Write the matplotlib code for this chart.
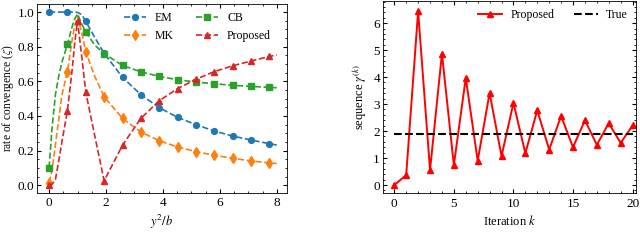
import numpy as np
import matplotlib
matplotlib.use("Agg")
import matplotlib.pyplot as plt
from matplotlib.ticker import AutoMinorLocator, MultipleLocator

plt.rcParams['font.family'] = ['Liberation Serif', 'DejaVu Serif']
plt.rcParams['mathtext.fontset'] = 'stix'
plt.rcParams['font.size'] = 9
plt.rcParams['xtick.labelsize'] = 9.5
plt.rcParams['ytick.labelsize'] = 9.5
plt.rcParams['legend.fontsize'] = 8.5
plt.rcParams['xtick.direction'] = 'in'
plt.rcParams['ytick.direction'] = 'in'
plt.rcParams['xtick.top'] = True
plt.rcParams['ytick.right'] = True
plt.rcParams['xtick.minor.visible'] = True
plt.rcParams['ytick.minor.visible'] = True
plt.rcParams['xtick.major.size'] = 3
plt.rcParams['ytick.major.size'] = 3
plt.rcParams['xtick.minor.size'] = 1.5
plt.rcParams['ytick.minor.size'] = 1.5
plt.rcParams['ytick.major.pad'] = 2
plt.rcParams['xtick.major.pad'] = 3
plt.rcParams['axes.linewidth'] = 0.6

# left panel: rate of convergence vs y^2/b
ratio = [0, 0.1, 0.22, 0.34, 0.45, 0.645, 0.8, 0.9, 1.0, 1.15, 1.29, 1.6, 1.935,
         2.58, 3.225, 3.87, 4.515, 5.16, 5.805, 6.45, 7.095, 7.74, 8.0]
em = [1, 1, 1, 1, 1, 1, 1, 1, 0.998, 0.985, 0.946, 0.855, 0.762,
      0.623, 0.523, 0.448, 0.392, 0.350, 0.313, 0.284, 0.261, 0.240, 0.232]
mk = [0.015, 0.08, 0.23, 0.38, 0.52, 0.656, 0.83, 0.92, 0.975, 0.88, 0.771, 0.63, 0.511,
      0.386, 0.307, 0.257, 0.221, 0.194, 0.173, 0.156, 0.140, 0.129, 0.125]
cb = [0.102, 0.32, 0.52, 0.63, 0.71, 0.813, 0.91, 0.96, 0.99, 0.93, 0.885, 0.81, 0.760,
      0.692, 0.655, 0.629, 0.609, 0.596, 0.586, 0.577, 0.571, 0.565, 0.563]
proposed = [0.0, 0.005, 0.03, 0.14, 0.25, 0.43, 0.65, 0.82, 0.95, 0.74, 0.537, 0.29, 0.025,
            0.231, 0.386, 0.488, 0.558, 0.612, 0.656, 0.690, 0.717, 0.744, 0.752]
marks = [0, 5, 10, 12, 13, 14, 15, 16, 17, 18, 19, 20, 21]
marks_prop = [0, 5, 8, 10, 12, 13, 14, 15, 16, 17, 18, 19, 20, 21]

# right panel: sequence over iterations
iters = list(range(21))
gamma = [0.0, 0.37, 6.44, 0.55, 4.87, 0.74, 3.97, 0.90, 3.41, 1.07, 3.04,
         1.18, 2.77, 1.31, 2.56, 1.40, 2.40, 1.49, 2.29, 1.56, 2.21]
gamma_true = 1.9

fig = plt.figure(figsize=(6.4, 2.47), dpi=100)
ax1 = fig.add_axes([0.058, 0.22, 0.390, 0.764])
ax2 = fig.add_axes([0.598, 0.217, 0.396, 0.779])

lw = 1.2
ms = 4.2
ax1.plot(ratio, em, '--o', color='#1f77b4', lw=lw, ms=ms, markevery=marks, label='EM')
ax1.plot(ratio, mk, '--d', color='#ff7f0e', lw=lw, ms=ms + 0.6, markevery=marks, label='MK')
ax1.plot(ratio, cb, '--s', color='#2ca02c', lw=lw, ms=ms - 0.3, markevery=marks, label='CB')
ax1.plot(ratio, proposed, '--^', color='#d62728', lw=lw, ms=ms, markevery=marks_prop, label='Proposed')
ax1.set_xlim(-0.42, 8.35)
ax1.set_ylim(-0.043, 1.047)
ax1.xaxis.set_major_locator(MultipleLocator(2))
ax1.xaxis.set_minor_locator(AutoMinorLocator(4))
ax1.yaxis.set_major_locator(MultipleLocator(0.2))
ax1.yaxis.set_minor_locator(AutoMinorLocator(4))
ax1.set_xlabel(r'$y^2/b$', labelpad=3)
ax1.set_ylabel(r'rate of convergence ($\zeta$)', fontsize=8.3)
ax1.yaxis.set_label_coords(-0.085, 0.5)
ax1.legend(ncol=2, loc='upper right', frameon=False, handlelength=1.8,
           handletextpad=0.8, columnspacing=1.9, borderaxespad=0.3,
           bbox_to_anchor=(0.97, 1.0))

ax2.plot(iters, gamma, '-^', color='red', lw=1.4, ms=4.5, label='Proposed')
ax2.plot([0, 20], [gamma_true, gamma_true], '--', color='black', lw=1.5, label='True')
ax2.set_xlim(-0.97, 20.3)
ax2.set_ylim(-0.31, 6.82)
ax2.xaxis.set_major_locator(MultipleLocator(5))
ax2.xaxis.set_minor_locator(AutoMinorLocator(5))
ax2.yaxis.set_major_locator(MultipleLocator(1))
ax2.yaxis.set_minor_locator(AutoMinorLocator(5))
ax2.set_xlabel(r'Iteration $k$', labelpad=3)
ax2.set_ylabel(r'sequence $\gamma^{(k)}$', labelpad=3)
ax2.legend(ncol=2, loc='upper right', frameon=False, handlelength=2.0,
           handletextpad=0.7, columnspacing=1.7, borderaxespad=0.3)

fig.savefig('out.png', dpi=100)
